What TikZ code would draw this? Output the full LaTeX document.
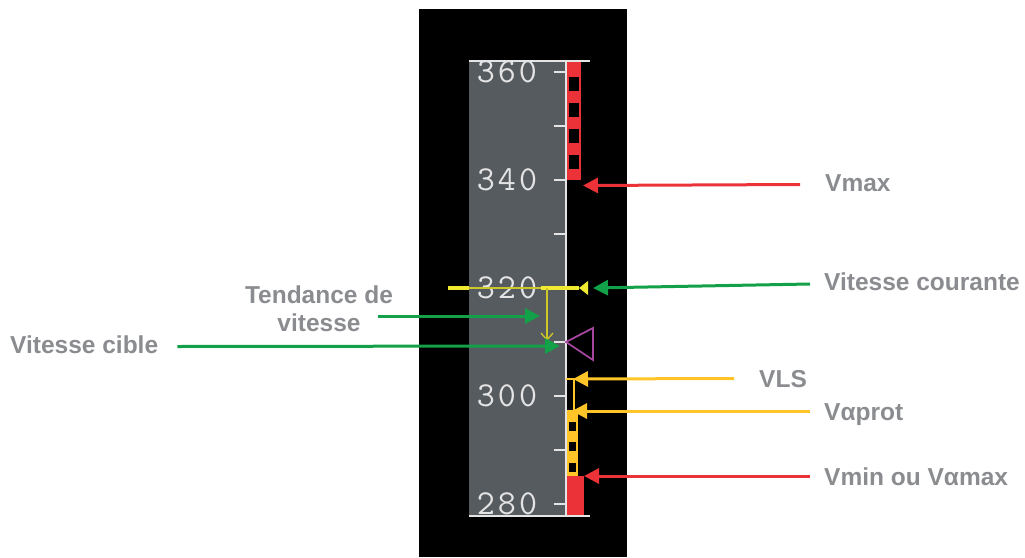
\documentclass[tikz,border=0pt]{standalone}
\usepackage{fontspec}
\setmainfont{Liberation Sans}
\usetikzlibrary{arrows.meta}
\definecolor{lblgray}{RGB}{138,140,143}
\definecolor{tapegray}{RGB}{86,91,96}
\definecolor{arred}{RGB}{234,50,56}
\definecolor{argreen}{RGB}{18,160,72}
\definecolor{arorange}{RGB}{255,196,40}
\definecolor{spdyellow}{RGB}{240,235,50}
\definecolor{trendyellow}{RGB}{205,200,40}
\definecolor{tgtmag}{RGB}{165,70,160}
\definecolor{tapewhite}{RGB}{228,228,228}
\newcommand{\tapenum}[3]{#1\kern3pt#2\kern3pt#3}
\begin{document}
\begin{tikzpicture}[x=1pt,y=-1pt,
  lbl/.style={font=\fontsize{24.5}{28}\selectfont\bfseries, text=lblgray, inner sep=0pt, anchor=west, text height=17.5pt, text depth=0pt},
  digits/.style={font=\fontsize{35}{35}\selectfont\ttfamily, text=tapewhite, inner sep=0pt},
  callout/.style={line width=3pt, -{Triangle[length=15pt,width=15pt]}},
  tick/.style={draw=tapewhite, line width=1.5pt}]
\useasboundingbox (0,0) rectangle (1025,557);
% panel and tape
\fill[black] (419,9) rectangle (627,557);
\fill[tapegray] (469,61) rectangle (566,516);
\begin{scope}
  \clip (469,61) rectangle (566,516);
  \foreach \v in {280,290,...,360} {
    \pgfmathsetmacro{\yy}{72+(360-\v)*5.4}
    \draw[tick] (553.5,\yy) -- (566,\yy);
  }
  \node[digits] (t360) at (507,72) {\tapenum360};
  \node[digits] (t340) at (507,180) {\tapenum340};
  \node[digits] (t320) at (507,288) {\tapenum320};
  \node[digits] (t300) at (507,396) {\tapenum300};
  \node[digits] (t280) at (507,504) {\tapenum280};
\end{scope}
\draw[tapewhite, line width=1.8pt] (566,61) -- (566,516);
\draw[tapewhite, line width=1.8pt] (469,61) -- (590,61);
\draw[tapewhite, line width=1.8pt] (469,516) -- (590,516);
% Vmax band
\fill[arred] (567,62) rectangle (581,180);
\foreach \y in {77,103,129,155} \fill[black] (569,\y) rectangle (579,\y+14);
% Valpha prot band
\fill[arorange] (567,410) rectangle (578,476);
\foreach \y in {422,442,463} \fill[black] (568.5,\y) rectangle (576,\y+9);
% Vmin band
\fill[arred] (567,476) rectangle (584,515);
% VLS bracket
\draw[arorange, line width=1.5pt] (566,379) -- (574,379) -- (574,412);
% current speed
\draw[spdyellow, line width=4.5pt] (448,288) -- (469,288);
\draw[spdyellow!85!black, line width=1.5pt] (469,288) -- (541,288);
\draw[spdyellow, line width=4.5pt] (541,288) -- (579,288);
\fill[spdyellow] (579,288) -- (588,281) -- (588,295) -- cycle;
% speed trend
\draw[trendyellow, line width=1.3pt, -{Straight Barb[length=7pt,width=12pt]}] (547,288) -- (547,341);
% target speed
\draw[tgtmag, line width=1.8pt, line join=miter] (566,342) -- (593,328) -- (593,360) -- cycle;
% callouts
\node[lbl] (vmax) at (825,183) {Vmax};
\coordinate (vmaxtip) at (583,185.5);
\draw[callout, arred] ([shift={(-25,1.5)}]vmax.west) -- (vmaxtip);

\node[lbl] (vc) at (824,281.5) {Vitesse courante};
\coordinate (vctip) at (593,288);
\draw[callout, argreen] ([shift={(-14,2.5)}]vc.west) -- (vctip);

\node[lbl] (vls) at (759,378.5) {VLS};
\coordinate (vlstip) at (573,379);
\draw[callout, arorange] ([shift={(-25,0)}]vls.west) -- (vlstip);

\node[lbl] (vaprot) at (824,412) {Vαprot};
\coordinate (vaprottip) at (572,411);
\draw[callout, arorange] ([shift={(-14,-1)}]vaprot.west) -- (vaprottip);

\node[lbl] (vmin) at (824,477) {Vmin ou Vαmax};
\coordinate (vmintip) at (584,476);
\draw[callout, arred] ([shift={(-14,-1)}]vmin.west) -- (vmintip);

\node[lbl] (cible) at (10,345) {Vitesse cible};
\coordinate (cibletip) at (560,346);
\draw[callout, argreen] ([shift={(19,1.5)}]cible.east) -- (cibletip);

\node[lbl, anchor=center, align=center, text height=, text depth=] (tend) at (319,309) {Tendance de\\vitesse};
\coordinate (tendtip) at (540,316);
\draw[callout, argreen] ([shift={(-15,7)}]tend.east) -- (tendtip);
\end{tikzpicture}
\end{document}
